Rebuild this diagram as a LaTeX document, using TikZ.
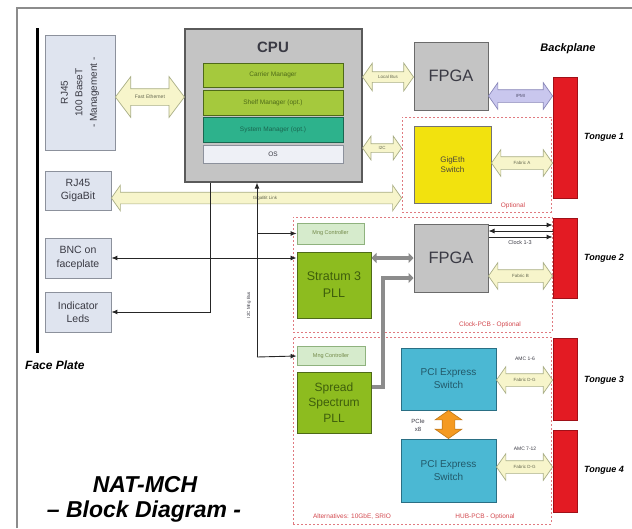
\documentclass[tikz,border=0pt]{standalone}
\usepackage{fontspec}
\setmainfont{Liberation Sans}
\usetikzlibrary{shapes.arrows,arrows.meta,calc}
\definecolor{faceF}{HTML}{DFE4EF}
\definecolor{faceD}{HTML}{8C919C}
\definecolor{cpuF}{HTML}{C4C4C4}
\definecolor{cpuD}{HTML}{5A5A5A}
\definecolor{grnF}{HTML}{A5C93D}
\definecolor{grnD}{HTML}{4E6A18}
\definecolor{tealF}{HTML}{2DB28C}
\definecolor{tealD}{HTML}{1A6650}
\definecolor{osF}{HTML}{EEF0F6}
\definecolor{yelF}{HTML}{F2E20E}
\definecolor{redF}{HTML}{E31B23}
\definecolor{redD}{HTML}{A01018}
\definecolor{pllF}{HTML}{8DBC1F}
\definecolor{pllT}{HTML}{3E5E0C}
\definecolor{mngF}{HTML}{D6EBCC}
\definecolor{mngD}{HTML}{8FB27E}
\definecolor{pciF}{HTML}{4BB8D3}
\definecolor{pciD}{HTML}{2A6F84}
\definecolor{arrF}{HTML}{F7F5CB}
\definecolor{arrD}{HTML}{A9AE86}
\definecolor{ipmiF}{HTML}{C9C7EE}
\definecolor{ipmiD}{HTML}{8886B8}
\definecolor{orgF}{HTML}{F59A21}
\definecolor{dashC}{HTML}{E07A80}
\definecolor{lblR}{HTML}{D2484E}
\definecolor{txtD}{HTML}{3A3A44}
\newcommand\fatH[5][]{\path let \p1=(#2), \p2=(#3), \p3=(0,#4) in
  node[fat,#1,minimum height={abs(\x2-\x1)}] at ({(\x1+\x2)/2},\y3) {#5};}
\begin{document}
\begin{tikzpicture}[x=1pt,y=-1pt,
  every node/.style={inner sep=1pt},
  facebox/.style={draw=faceD,fill=faceF,line width=0.8pt,text=txtD,align=center,font=\fontsize{10.5}{13.5}\selectfont},
  cpubox/.style={draw=cpuD,fill=cpuF,line width=1.2pt},
  mgrbox/.style={draw=grnD,fill=grnF,line width=0.8pt,text=grnD,font=\fontsize{6.5}{7}\selectfont},
  fpgabox/.style={draw=cpuD!90,fill=cpuF,line width=1pt,text=txtD,font=\fontsize{16.5}{18}\selectfont},
  tongue/.style={draw=redD,fill=redF,line width=0.8pt},
  tlbl/.style={anchor=west,font=\fontsize{9}{10}\selectfont\bfseries\itshape},
  mngbox/.style={draw=mngD,fill=mngF,line width=0.8pt,text=grnD!80,font=\fontsize{5.5}{6}\selectfont},
  pllbox/.style={draw=grnD,fill=pllF,line width=1pt,text=pllT,align=center},
  pcibox/.style={draw=pciD,fill=pciF,line width=1pt,text=pciD!80!black,align=center,font=\fontsize{10}{13}\selectfont},
  optbox/.style={draw=dashC,line width=0.8pt,dash pattern=on 2pt off 2pt},
  redlbl/.style={text=lblR,font=\fontsize{6.5}{7}\selectfont},
  fat/.style={double arrow,draw=arrD,fill=arrF,line width=0.7pt,double arrow head extend=7pt,
    double arrow tip angle=110,inner xsep=1pt,inner ysep=4pt,text height=3pt,text depth=1pt,
    text=arrD!60!black,font=\fontsize{4.5}{5}\selectfont},
  blk/.style={draw=black!85,line width=0.9pt},
  tip/.style={-{Latex[length=6pt,width=5pt]}},
  thickgray/.style={draw=black!45,line width=4.5pt}
]
\useasboundingbox (0,0) rectangle (632,528);
% frame
\draw[black!45,line width=1.5pt] (17,528) -- (17,8) -- (632,8);
% face plate
\draw[line width=3pt] (37,28) -- (37,353);
\node[anchor=west,font=\fontsize{12}{13}\selectfont\bfseries\itshape] (fplbl) at (24,365) {Face Plate};
\node[facebox,minimum width=70,minimum height=115] (rj45m) at (80,92.5) {};
\node[rotate=90,align=center,text=txtD,font=\fontsize{10}{14.5}\selectfont] (rj45mt) at (rj45m) {RJ45\\100 BaseT\\- Management -};
\node[facebox,minimum width=66,minimum height=39] (rj45g) at (78,190.5) {RJ45\\GigaBit};
\node[facebox,minimum width=66,minimum height=40] (bnc) at (78,258) {BNC on\\faceplate};
\node[facebox,minimum width=66,minimum height=40] (leds) at (78,312) {Indicator\\Leds};
% CPU
\node[cpubox,minimum width=177,minimum height=153] (cpu) at (273.5,105.5) {};
\node[text=txtD,font=\fontsize{15}{16}\selectfont\bfseries] (cpulbl) at (273,47) {CPU};
\node[mgrbox,minimum width=140,minimum height=24] (carrier) at (273,75) {Carrier Manager};
\node[mgrbox,minimum width=140,minimum height=25] (shelf) at (273,102.5) {Shelf Manager (opt.)};
\node[mgrbox,draw=tealD,fill=tealF,text=tealD,minimum width=140,minimum height=25] (system) at (273,129.5) {System Manager (opt.)};
\node[mgrbox,draw=faceD,fill=osF,text=txtD,minimum width=140,minimum height=18] (os) at (273,154) {OS};
% top FPGA + GigEth
\node[fpgabox,minimum width=74,minimum height=68] (fpga1) at (451,76) {FPGA};
\node[optbox,minimum width=149,minimum height=95] (opt1) at (476.5,164.5) {};
\node[redlbl] (opt1lbl) at (513,206) {Optional};
\node[draw=black!55,fill=yelF,line width=1pt,minimum width=77,minimum height=77,align=center,text=black!70!yellow!60!black,font=\fontsize{8}{10}\selectfont] (gigeth) at (452.5,164.5) {GigEth\\Switch};
% tongues
\node[tongue,minimum width=24,minimum height=121] (t1) at (565,137.5) {};
\node[tongue,minimum width=24,minimum height=80] (t2) at (565,258) {};
\node[tongue,minimum width=24,minimum height=82] (t3) at (565,379) {};
\node[tongue,minimum width=24,minimum height=82] (t4) at (565,471) {};
\node[tlbl] (t1l) at (583,137) {Tongue 1};
\node[tlbl] (t2l) at (583,258) {Tongue 2};
\node[tlbl] (t3l) at (583,380) {Tongue 3};
\node[tlbl] (t4l) at (583,470) {Tongue 4};
\node[font=\fontsize{11}{12}\selectfont\bfseries\itshape] (bp) at (568,49) {Backplane};
% Clock PCB
\node[optbox,minimum width=259,minimum height=115] (clkpcb) at (422.5,274.5) {};
\node[redlbl] (clklbl) at (490,325) {Clock-PCB - Optional};
\node[mngbox,minimum width=67,minimum height=21] (mng1) at (330.5,233.5) {Mng Controller};
\node[pllbox,minimum width=74,minimum height=66,font=\fontsize{12.5}{17}\selectfont] (stratum) at (334,285) {Stratum 3\\PLL};
\node[fpgabox,minimum width=74,minimum height=68] (fpga2) at (451,258) {FPGA};
% HUB PCB
\node[optbox,minimum width=258,minimum height=187] (hubpcb) at (422,430.5) {};
\node[redlbl] (altlbl) at (352,517) {Alternatives: 10GbE, SRIO};
\node[redlbl] (hublbl) at (485,517) {HUB-PCB - Optional};
\node[mngbox,minimum width=68,minimum height=19] (mng2) at (331,356) {Mng Controller};
\node[pllbox,minimum width=74,minimum height=61,font=\fontsize{12}{15.5}\selectfont] (spread) at (334,402.5) {Spread\\Spectrum\\PLL};
\node[pcibox,minimum width=95,minimum height=62] (pci1) at (448.5,379) {PCI Express\\Switch};
\node[pcibox,minimum width=95,minimum height=63] (pci2) at (448.5,470.5) {PCI Express\\Switch};
\node[align=center,text=txtD,font=\fontsize{6}{8}\selectfont] (pcielbl) at (418,425) {PCIe\\x8};
\node[font=\fontsize{5}{6}\selectfont,text=txtD] (amc1) at (525,359) {AMC 1-6};
\node[font=\fontsize{5}{6}\selectfont,text=txtD] (amc2) at (525,449) {AMC 7-12};
% fat arrows
\fatH[inner ysep=6pt,double arrow head extend=12pt,double arrow tip angle=106,font=\fontsize{5}{5}\selectfont]{rj45m.east}{cpu.west}{97}{Fast Ethernet}
\fatH[inner ysep=3pt,double arrow head extend=8.5pt]{cpu.east}{fpga1.west}{77}{Local Bus}
\fatH[inner ysep=2pt,double arrow head extend=7.5pt]{cpu.east}{opt1.west}{148}{I2C}
\fatH[draw=ipmiD,fill=ipmiF,text=ipmiD!60!black]{fpga1.east}{t1.west}{96}{IPMI}
\fatH{gigeth.east}{t1.west}{163}{Fabric A}
\fatH[inner ysep=3.5pt]{rj45g.east}{opt1.west}{198}{}
\node[text=arrD!60!black,font=\fontsize{4.5}{5}\selectfont] (gblbl) at (265,198) {GigaBit Link};
\fatH{fpga2.east}{t2.west}{276}{Fabric B}
\fatH{pci1.east}{t3.west}{380}{Fabric D-G}
\fatH{pci2.east}{t4.west}{467}{Fabric D-G}
\path let \p1=(pci1.south), \p2=(pci2.north) in
  node[fat,draw=orgF!80!black,fill=orgF,rotate=90,minimum height={abs(\y2-\y1)}] (pcie) at (\x1,{(\y1+\y2)/2}) {};
% thick gray links
\draw[thickgray,{Triangle[length=5pt,width=10pt]}-{Triangle[length=5pt,width=10pt]}] (stratum.east |- fpga2.west) -- (fpga2.west);
\coordinate (sbend) at (383,387);
\draw[thickgray,line join=miter,-{Triangle[length=5pt,width=10pt]}] (spread.east |- sbend) -- (sbend) -- (sbend |- 0,278) -- (fpga2.west |- 0,278);
% clock lines
\draw[blk,tip] (fpga2.east |- 0,225) -- (t2.west |- 0,225);
\draw[blk,tip] (t2.west |- 0,231) -- (fpga2.east |- 0,231);
\draw[blk,tip] (fpga2.east |- 0,237) -- (t2.west |- 0,237);
\node[font=\fontsize{5.5}{6}\selectfont,text=txtD] (clk13) at (520,243) {Clock 1-3};
% black lines
\coordinate (ledsdrop) at (210,312);
\draw[blk,tip] (cpu.south -| ledsdrop) -- (ledsdrop) -- (leds.east);
\draw[blk,{Latex[length=6pt,width=5pt]}-{Latex[length=6pt,width=5pt]}] (bnc.east) -- (bnc.east -| stratum.west);
\coordinate (bus) at (257,357);
\draw[blk,tip] (bus) -- (bus |- cpu.south);
\draw[blk,tip] (bus |- mng1.west) -- (mng1.west);
\draw[blk,tip] (bus) -- (mng2.west);
\node[rotate=90,font=\fontsize{4.5}{5}\selectfont,text=txtD] (buslbl) at (249,305) {I2C Mng Bus};
% title
\node[font=\fontsize{23}{26}\selectfont\bfseries\itshape] (title1) at (145,485) {NAT-MCH};
\node[font=\fontsize{23}{26}\selectfont\bfseries\itshape] (title2) at (144,512) {– Block Diagram -};
\end{tikzpicture}
\end{document}
